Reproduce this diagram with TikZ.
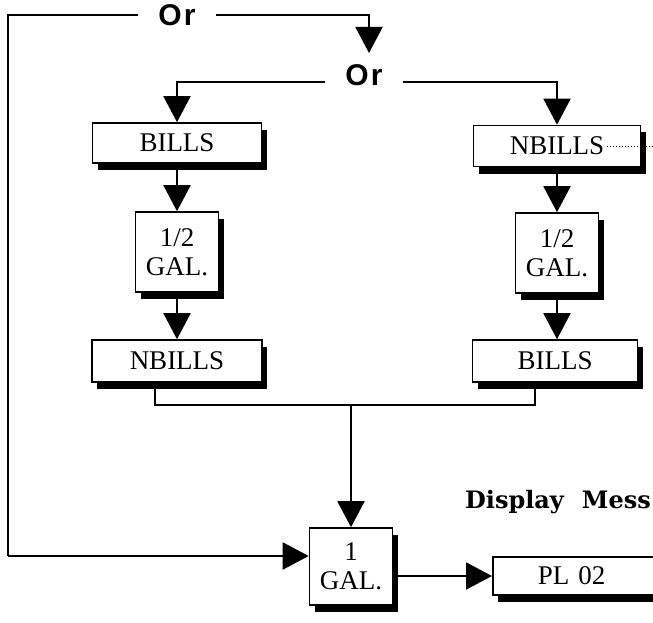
\documentclass[tikz,border=0pt]{standalone}
\usepackage{fontspec}
\newfontfamily\orfont{Liberation Sans}
\newfontfamily\boxfont{Liberation Serif}
\newfontfamily\dispfont{DejaVu Serif}
\usetikzlibrary{arrows.meta,shadows}
\begin{document}
\begin{tikzpicture}[x=1pt,y=-1pt,
  box/.style={draw, line width=1.6pt, fill=white,
    drop shadow={shadow xshift=5pt, shadow yshift=-7pt, fill=black, opacity=1},
    font=\boxfont\fontsize{27}{29}\selectfont, align=center, inner sep=0pt},
  conn/.style={line width=2pt},
  arr/.style={conn, -{Triangle[length=26pt,width=27pt]}},
  orlabel/.style={font=\orfont\bfseries\fontsize{30}{32}\selectfont, inner xsep=20pt, inner ysep=0pt}]
\useasboundingbox (0,0) rectangle (653,623);
% boxes
\node[box, minimum width=169pt, minimum height=40pt] (bills1) at (177,143) {BILLS};
\node[box, minimum width=167pt, minimum height=41pt] (nbills1) at (557,146) {NBILLS};
\node[box, minimum width=83pt, minimum height=80pt] (half1) at (177,252) {1/2\\GAL.};
\node[box, minimum width=83pt, minimum height=80pt] (half2) at (557,253) {1/2\\GAL.};
\node[box, minimum width=170pt, minimum height=42pt] (nbills2) at (177,361) {NBILLS};
\node[box, minimum width=165pt, minimum height=42pt] (bills2) at (555,361) {BILLS};
\node[box, minimum width=83pt, minimum height=77pt] (gal1) at (351,566.5) {1\\GAL.};
\node[box, anchor=west, minimum height=38pt, text width=120pt, align=left, inner xsep=45pt] (pl02) at (492,576) {PL 02};
% Or labels
\node[orlabel] (or1) at (177,15) {O\kern2pt r};
\node[orlabel] (or2) at (364,75) {O\kern2pt r};
\node[anchor=base east, font=\dispfont\bfseries\fontsize{24}{26}\selectfont, inner sep=0pt] (disp) at (651,508) {Display\hspace{18pt}Mess};
% coordinates
\coordinate (tl) at (8,15);
\coordinate (bl) at (8,556);
\coordinate (tr) at (369,15);
\coordinate (toptip) at (369,53);
\coordinate (o2l) at (177,82);
\coordinate (o2r) at (557,82);
\coordinate (ml) at (155,405);
\coordinate (mr) at (535,405);
\coordinate (ds) at (607,147);
\coordinate (de) at (653,147);
% connectors
\draw[conn] (or1.west) -- (tl) -- (bl);
\draw[arr] (bl) -- (bl -| gal1.west);
\draw[arr] (or1.east) -- (tr) -- (toptip);
\draw[arr] (or2.west |- o2l) -- (o2l) -- (bills1.north);
\draw[arr] (or2.east |- o2r) -- (o2r) -- (nbills1.north);
\draw[arr] (bills1.south) -- (half1.north);
\draw[arr] (half1.south) -- (nbills2.north);
\draw[arr] (nbills1.south) -- (half2.north);
\draw[arr] (half2.south) -- (half2.south |- bills2.north);
\draw[conn] (nbills2.south -| ml) -- (ml) -- (mr) -- (bills2.south -| mr);
\draw[arr] (gal1.north |- ml) -- (gal1.north);
\draw[arr] (gal1.east |- pl02.west) -- (pl02.west);
\draw[dotted, line width=1pt] (ds) -- (de);
\end{tikzpicture}
\end{document}
